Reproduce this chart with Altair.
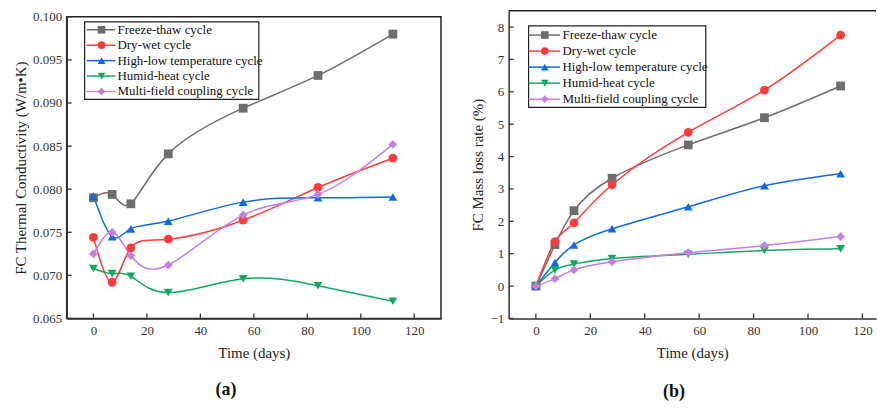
import altair as alt
import pandas as pd

days = [0, 7, 14, 28, 56, 84, 112]
series = ["Freeze-thaw cycle", "Dry-wet cycle", "High-low temperature cycle",
          "Humid-heat cycle", "Multi-field coupling cycle"]
colors = ["#6e6e6e", "#ff3b3b", "#0f6ae0", "#13a862", "#c47fe3"]
shapes = ["square", "circle", "triangle-up", "triangle-down", "diamond"]

# (a) thermal conductivity
tc_freeze = [0.0790, 0.0794, 0.0783, 0.0841, 0.0894, 0.0932, 0.0980]
tc_drywet = [0.0744, 0.0692, 0.0732, 0.0742, 0.0764, 0.0802, 0.0836]
tc_highlow = [0.0792, 0.0745, 0.0754, 0.0763, 0.0785, 0.0790, 0.0791]
tc_humid = [0.0708, 0.0702, 0.0699, 0.0680, 0.0696, 0.0688, 0.0670]
tc_multi = [0.0725, 0.0750, 0.0723, 0.0712, 0.0770, 0.0794, 0.0852]

# (b) mass loss rate
ml_freeze = [0.0, 1.28, 2.33, 3.33, 4.36, 5.20, 6.18]
ml_drywet = [0.0, 1.37, 1.95, 3.13, 4.75, 6.05, 7.75]
ml_highlow = [0.0, 0.73, 1.27, 1.77, 2.45, 3.10, 3.47]
ml_humid = [0.0, 0.50, 0.68, 0.85, 0.98, 1.10, 1.15]
ml_multi = [0.0, 0.23, 0.50, 0.75, 1.03, 1.25, 1.53]

x_ticks = [0, 20, 40, 60, 80, 100, 120]
tc_ticks = [0.065, 0.070, 0.075, 0.080, 0.085, 0.090, 0.095, 0.100]
ml_ticks = [-1, 0, 1, 2, 3, 4, 5, 6, 7, 8]

FONT = "Liberation Serif"


def long_df(lists):
    rows = []
    for name, vals in zip(series, lists):
        for d, v in zip(days, vals):
            rows.append({"time": d, "value": v, "series": name})
    return pd.DataFrame(rows)


cscale = alt.Scale(domain=series, range=colors)
sscale = alt.Scale(domain=series, range=shapes)
COLOR = alt.Color("series:N", scale=cscale, legend=None)
SHAPE = alt.Shape("series:N", scale=sscale, legend=None)


def legend_block(box, line_x, mark_x, text_x, ys):
    one = pd.DataFrame({"k": [0]})
    ldf = pd.DataFrame({"series": series, "idx": list(range(len(series)))})
    LY = alt.Y("idx:Q", scale=alt.Scale(domain=[0, len(series) - 1], range=ys,
                                        nice=False, zero=False),
               axis=None)
    frame = alt.Chart(one).mark_rect(fill="white", stroke="#222",
                                     strokeWidth=1.2).encode(
        x=alt.value(box[0]), x2=alt.value(box[1]),
        y=alt.value(box[2]), y2=alt.value(box[3]))
    seg = alt.Chart(ldf).mark_rule(strokeWidth=1.5).encode(
        x=alt.value(line_x[0]), x2=alt.value(line_x[1]), y=LY, color=COLOR)
    mk = alt.Chart(ldf).mark_point(filled=True, size=60, opacity=1).encode(
        x=alt.value(mark_x), y=LY, color=COLOR, shape=SHAPE)
    tx = alt.Chart(ldf).mark_text(align="left", baseline="middle", font=FONT,
                                  fontSize=13, color="#111").encode(
        x=alt.value(text_x), y=LY, text="series:N")
    return alt.layer(frame, seg, mk, tx)


def panel(lists, ydomain, yticks, yfmt, ytitle, xmax, W, H, label, labx, laby,
          full_box, leg):
    df = long_df(lists)
    xs = alt.Scale(domain=[-10, xmax], nice=False, zero=False)
    ys = alt.Scale(domain=ydomain, nice=False, zero=False)
    xa = alt.Axis(values=x_ticks, ticks=False, grid=False, domainColor="#333",
                  domainWidth=1.5, labelPadding=6, labelFontSize=13,
                  labelColor="#333", title="Time (days)", titlePadding=8,
                  titleFontSize=15, titleFontWeight="normal", titleColor="#222",
                  labelFont=FONT, titleFont=FONT)
    ya = alt.Axis(values=yticks, format=yfmt, ticks=False, grid=False,
                  domainColor="#333", domainWidth=1.5, labelPadding=5,
                  labelFontSize=13, labelColor="#333", title=ytitle,
                  titlePadding=4, titleFontSize=15, titleFontWeight="normal",
                  titleColor="#222", labelFont=FONT, titleFont=FONT)
    X = alt.X("time:Q", scale=xs, axis=xa)
    Y = alt.Y("value:Q", scale=ys, axis=ya)
    base = alt.Chart(df)
    lines = base.mark_line(interpolate="natural", strokeWidth=1.5).encode(
        x=X, y=Y, color=COLOR)
    points = base.mark_point(filled=True, size=78, opacity=1).encode(
        x=X, y=Y, color=COLOR, shape=SHAPE)
    xt = alt.Chart(pd.DataFrame({"time": x_ticks})).mark_rule(
        color="#333", strokeWidth=1.3).encode(
        x=X, y=alt.value(H), y2=alt.value(H - 5))
    yt = alt.Chart(pd.DataFrame({"value": yticks})).mark_rule(
        color="#333", strokeWidth=1.3).encode(
        y=Y, x=alt.value(0), x2=alt.value(5))
    lab = alt.Chart(pd.DataFrame({"t": [label]})).mark_text(
        font=FONT, fontSize=18, fontWeight="bold", color="#111",
        baseline="middle", align="center").encode(
        text="t:N", x=alt.value(labx), y=alt.value(laby))
    layers = [lines, points, xt, yt, lab]
    if not full_box:
        top = alt.Chart(pd.DataFrame({"t": [0]})).mark_rule(
            color="#222", strokeWidth=1.5).encode(
            x=alt.value(0), x2=alt.value(W), y=alt.value(0))
        layers.append(top)
    main = alt.layer(*layers)
    ch = alt.layer(main, leg).resolve_scale(y="independent").properties(
        width=W, height=H)
    if full_box:
        ch = ch.properties(view=alt.ViewBackground(stroke="#222", strokeWidth=1.5))
    else:
        ch = ch.properties(view=alt.ViewBackground(stroke=None))
    return ch


left_leg = legend_block([18, 193, 5, 83], [20, 49], 35, 51, [13, 75])
right_leg = legend_block([20, 198, 15, 97], [20, 51.5], 36.3, 54, [24.3, 88.7])

left = panel([tc_freeze, tc_drywet, tc_highlow, tc_humid, tc_multi],
             [0.065, 0.100], tc_ticks, ".3f",
             "FC Thermal Conductivity (W/m\u2022K)", 130, 376, 303,
             "(a)", 160, 375, True, left_leg)
right = panel([ml_freeze, ml_drywet, ml_highlow, ml_humid, ml_multi],
              [-1, 8.5], ml_ticks, "d", "FC Mass loss rate (%)", 125, 369, 309,
              "(b)", 166, 383, False, right_leg)

spacer = alt.Chart(pd.DataFrame({"k": [0]})).mark_rule(opacity=0).encode(
    x=alt.value(0), x2=alt.value(10), y=alt.value(0)).properties(
    width=376, height=6, view=alt.ViewBackground(stroke=None))

left_col = alt.vconcat(spacer, left, spacing=0, bounds="flush")

chart = alt.hconcat(left_col, right, spacing=29).properties(
    padding={"left": 13, "top": 9, "right": 0, "bottom": 0},
    background="white").configure(font=FONT)

chart.save("out.html", embed_options={"renderer": "svg", "actions": False})
